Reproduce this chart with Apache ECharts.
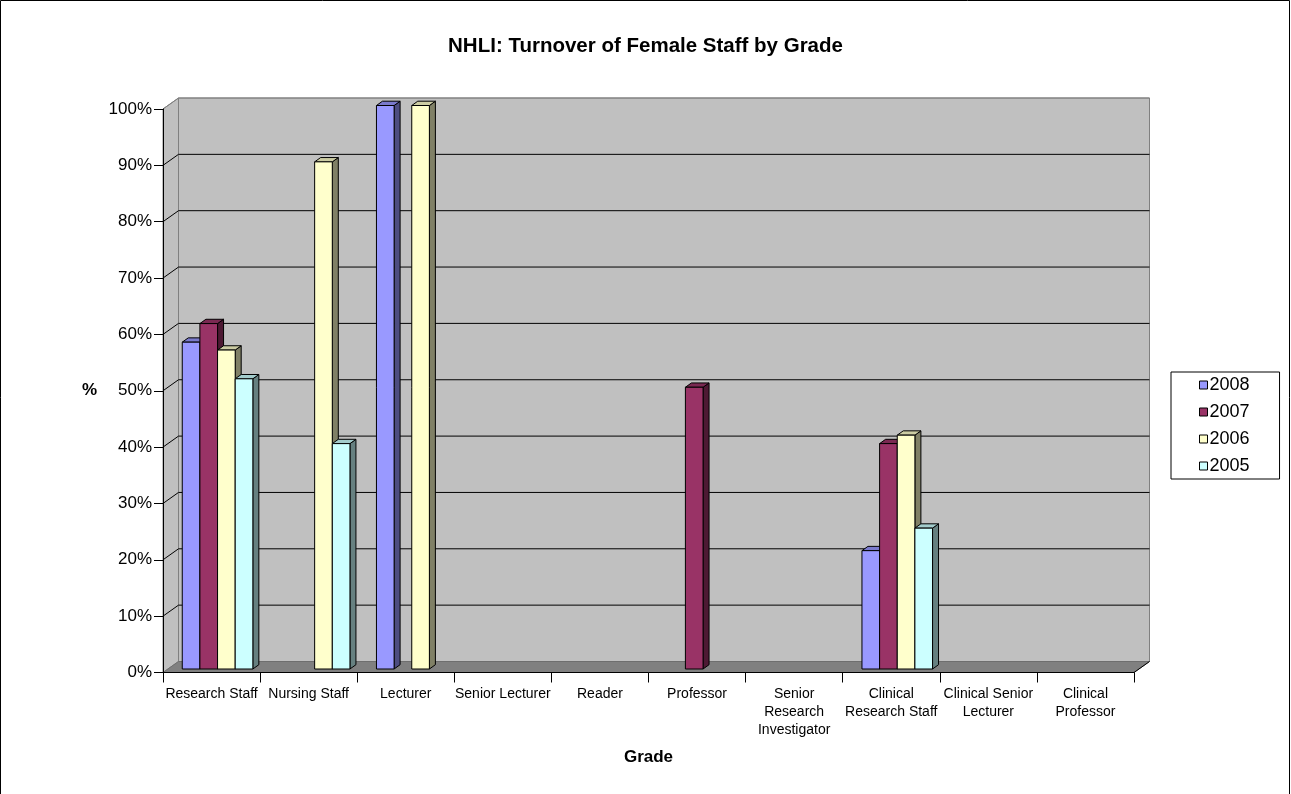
<!DOCTYPE html>
<html>
<head>
<meta charset="utf-8">
<title>NHLI: Turnover of Female Staff by Grade</title>
<script src="https://cdn.jsdelivr.net/npm/echarts@6/dist/echarts.min.js"></script>
<style>
  html, body { margin: 0; padding: 0; background: #ffffff; }
  #chart { width: 1291px; height: 794px; }
</style>
</head>
<body>
<div id="chart"></div>
<script>
// ---- data ----
const grades = [
  'Research Staff', 'Nursing Staff', 'Lecturer', 'Senior Lecturer', 'Reader',
  'Professor', 'Senior\nResearch\nInvestigator', 'Clinical\nResearch Staff',
  'Clinical Senior\nLecturer', 'Clinical\nProfessor'
];
const years = ['2008', '2007', '2006', '2005'];
const turnover2008 = [0.58, null, 1.00, null, null, null, null, 0.21, null, null];
const turnover2007 = [0.613, null, null, null, null, 0.50, null, 0.40, null, null];
const turnover2006 = [0.566, 0.90, 1.00, null, null, null, null, 0.415, null, null];
const turnover2005 = [0.515, 0.40, null, null, null, null, null, 0.25, null, null];
const percentTicks = [0, 0.1, 0.2, 0.3, 0.4, 0.5, 0.6, 0.7, 0.8, 0.9, 1.0];

// ---- styling ----
const FONT = '"Liberation Sans", Arial, Helvetica, sans-serif';
const faceColors = {
  '2008': { front: '#9999ff', top: '#7a7acc', side: '#4d4d80' },
  '2007': { front: '#993366', top: '#7a2952', side: '#4d1933' },
  '2006': { front: '#ffffcc', top: '#cccca3', side: '#808066' },
  '2005': { front: '#ccffff', top: '#a3cccc', side: '#668080' }
};
// depth of the back wall relative to the front plane
const WALL_DX = 15.5, WALL_DY = -11;
// depth of each bar block
const BAR_DX = 6, BAR_DY = -4.3;
// share of a category band taken by the four bars together
const GROUP_SHARE = 0.727;

const seriesValues = [turnover2008, turnover2007, turnover2006, turnover2005];

// Back wall, side wall, floor and their grid lines, laid out from the front axes.
function renderWalls(params, api) {
  const cs = params.coordSys;
  const x0 = cs.x, x1 = cs.x + cs.width;
  const yTop = cs.y, yBot = cs.y + cs.height;
  const dx = WALL_DX, dy = WALL_DY;
  const kids = [];
  kids.push({
    type: 'rect',
    shape: { x: x0 + dx, y: yTop + dy, width: cs.width, height: cs.height },
    style: { fill: '#c0c0c0', stroke: '#808080', lineWidth: 1 }
  });
  kids.push({
    type: 'polygon',
    shape: { points: [[x0, yTop], [x0 + dx, yTop + dy], [x0 + dx, yBot + dy], [x0, yBot]] },
    style: { fill: '#c0c0c0', stroke: '#808080', lineWidth: 1 }
  });
  kids.push({
    type: 'polygon',
    shape: { points: [[x0, yBot], [x0 + dx, yBot + dy], [x1 + dx, yBot + dy], [x1, yBot]] },
    style: { fill: '#808080', stroke: '#6e6e6e', lineWidth: 1 }
  });
  percentTicks.forEach(function (v) {
    if (v === 0) return;
    const y = api.coord([0, v])[1];
    const col = v >= 1 ? '#808080' : '#000000';
    kids.push({
      type: 'line',
      shape: { x1: x0 + dx, y1: y + dy, x2: x1 + dx, y2: y + dy },
      style: { stroke: col, lineWidth: 1 }
    });
    kids.push({
      type: 'line',
      shape: { x1: x0, y1: y, x2: x0 + dx, y2: y + dy },
      style: { stroke: col, lineWidth: 1 }
    });
  });
  // right edge of the floor
  kids.push({
    type: 'line',
    shape: { x1: x1, y1: yBot, x2: x1 + dx, y2: yBot + dy },
    style: { stroke: '#000000', lineWidth: 1 }
  });
  return { type: 'group', children: kids };
}

// A bar block: front face, top face and right side face.
function barRenderer(slot, colors) {
  return function (params, api) {
    const cat = api.value(0);
    const val = api.value(1);
    const base = api.coord([cat, 0]);
    const top = api.coord([cat, val]);
    const band = api.size([1, 0])[0];
    const bw = band * GROUP_SHARE / 4;
    const x = base[0] - band * GROUP_SHARE / 2 + slot * bw;
    const ty = top[1], by = base[1];
    const line = { stroke: '#000000', lineWidth: 1, lineJoin: 'miter' };
    return {
      type: 'group',
      children: [
        {
          type: 'polygon',
          shape: { points: [[x + bw, ty], [x + bw + BAR_DX, ty + BAR_DY], [x + bw + BAR_DX, by + BAR_DY], [x + bw, by]] },
          style: Object.assign({ fill: colors.side }, line)
        },
        {
          type: 'polygon',
          shape: { points: [[x, ty], [x + BAR_DX, ty + BAR_DY], [x + bw + BAR_DX, ty + BAR_DY], [x + bw, ty]] },
          style: Object.assign({ fill: colors.top }, line)
        },
        {
          type: 'rect',
          shape: { x: x, y: ty, width: bw, height: by - ty },
          style: Object.assign({ fill: colors.front }, line)
        }
      ]
    };
  };
}

const barSeries = years.map(function (yr, k) {
  const data = [];
  seriesValues[k].forEach(function (v, i) { if (v != null) data.push([i, v]); });
  return {
    name: yr,
    type: 'custom',
    xAxisIndex: 1,
    yAxisIndex: 1,
    clip: false,
    z: 5,
    itemStyle: { color: faceColors[yr].front, borderColor: '#000', borderWidth: 1 },
    renderItem: barRenderer(k, faceColors[yr]),
    data: data
  };
});

const chart = echarts.init(document.getElementById('chart'), null, { renderer: 'canvas' });

chart.setOption({
  animation: false,
  backgroundColor: '#ffffff',
  textStyle: { fontFamily: FONT, color: '#000' },
  title: {
    text: 'NHLI: Turnover of Female Staff by Grade',
    left: 'center',
    top: 36,
    padding: 0,
    textStyle: { fontFamily: FONT, fontSize: 20.5, fontWeight: 'bold', color: '#000' }
  },
  legend: {
    data: years,
    orient: 'vertical',
    left: 1171,
    top: 372,
    icon: 'rect',
    itemWidth: 8,
    itemHeight: 8,
    itemGap: 9,
    itemStyle: { borderColor: '#000', borderWidth: 1 },
    padding: [4, 30, 4, 28],
    borderColor: '#000',
    borderWidth: 1,
    backgroundColor: '#ffffff',
    textStyle: { fontFamily: FONT, fontSize: 18, lineHeight: 17, color: '#000', padding: [0, 0, 0, -3] }
  },
  grid: [
    { left: 163, top: 109, width: 971, height: 563.5 },
    { left: 169, top: 105.5, width: 971, height: 563.5 }
  ],
  xAxis: [
    {
      type: 'category',
      gridIndex: 0,
      data: grades,
      z: 6,
      name: 'Grade',
      nameLocation: 'middle',
      nameGap: 76,
      nameTextStyle: { fontFamily: FONT, fontSize: 17, fontWeight: 'bold', color: '#000' },
      axisLine: { show: true, lineStyle: { color: '#000', width: 1 } },
      axisTick: { show: true, length: 10, lineStyle: { color: '#000' } },
      axisLabel: { interval: 0, margin: 13, fontFamily: FONT, fontSize: 14, lineHeight: 18, color: '#000', align: 'center' },
      splitLine: { show: false }
    },
    {
      type: 'category',
      gridIndex: 1,
      data: grades,
      show: false
    }
  ],
  yAxis: [
    {
      type: 'value',
      gridIndex: 0,
      min: 0,
      max: 1,
      interval: 0.1,
      z: 6,
      name: '%',
      nameLocation: 'middle',
      nameRotate: 0,
      nameGap: 66,
      nameTextStyle: { fontFamily: FONT, fontSize: 17, fontWeight: 'bold', color: '#000' },
      axisLine: { show: true, lineStyle: { color: '#000', width: 1 } },
      axisTick: { show: true, length: 9, lineStyle: { color: '#000' } },
      axisLabel: {
        margin: 11,
        fontFamily: FONT,
        fontSize: 17,
        color: '#000',
        formatter: function (v) { return Math.round(v * 100) + '%'; }
      },
      splitLine: { show: false }
    },
    {
      type: 'value',
      gridIndex: 1,
      min: 0,
      max: 1,
      interval: 0.1,
      show: false
    }
  ],
  graphic: [
    {
      type: 'rect',
      shape: { x: 0.5, y: 0.5, width: 1289, height: 805 },
      style: { fill: null, stroke: '#000', lineWidth: 1 },
      silent: true,
      z: 100
    }
  ],
  series: [
    {
      name: 'walls',
      type: 'custom',
      xAxisIndex: 0,
      yAxisIndex: 0,
      clip: false,
      z: 1,
      silent: true,
      renderItem: renderWalls,
      data: [[0, 0]]
    }
  ].concat(barSeries)
});
</script>
</body>
</html>
